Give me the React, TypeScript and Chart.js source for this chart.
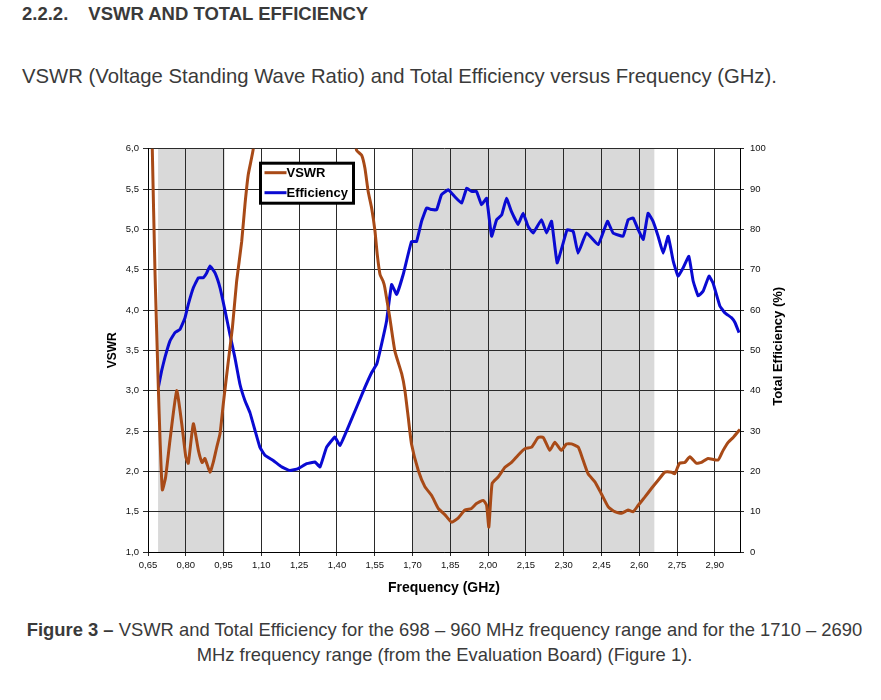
import React, { useEffect, useRef } from 'react';
import { Chart, registerables } from 'chart.js';

Chart.register(...registerables);

const FONT = 'Arial, "Liberation Sans", sans-serif';

const VSWR_FREQ = [
  0.662, 0.667, 0.678, 0.691, 0.698, 0.707, 0.72, 0.737, 0.764, 0.784, 0.8, 0.81, 0.83, 0.85, 0.865,
  0.876, 0.896, 0.909, 0.923, 0.936, 0.949, 0.969, 0.985, 1.002, 1.022, 1.035, 1.048, 1.068, 1.09,
  1.15, 1.3, 1.42, 1.465, 1.478, 1.498, 1.511, 1.524, 1.538, 1.551, 1.56, 1.571, 1.583, 1.59, 1.61,
  1.63, 1.657, 1.67, 1.683, 1.696, 1.723, 1.749, 1.776, 1.802, 1.829, 1.855, 1.881, 1.908, 1.934,
  1.954, 1.981, 1.994, 2.003, 2.016, 2.04, 2.067, 2.093, 2.119, 2.146, 2.173, 2.199, 2.219, 2.245,
  2.265, 2.291, 2.311, 2.331, 2.358, 2.377, 2.397, 2.424, 2.45, 2.477, 2.503, 2.53, 2.556, 2.576,
  2.596, 2.622, 2.649, 2.675, 2.702, 2.728, 2.741, 2.76, 2.781, 2.801, 2.827, 2.847, 2.873, 2.913,
  2.933, 2.953, 2.973, 3.0,
];
const VSWR_VALUES = [
  6.8, 6.0, 4.44, 3.04, 2.38, 1.77, 1.93, 2.38, 3.0, 2.59, 2.18, 2.1, 2.59, 2.26, 2.11,
  2.16, 1.99, 2.11, 2.3, 2.47, 2.84, 3.37, 3.78, 4.36, 4.85, 5.31, 5.68, 6.0, 6.9,
  9.0, 10.0, 8.0, 6.3, 5.98, 5.92, 5.76, 5.47, 5.26, 4.98, 4.69, 4.44, 4.36, 4.28, 3.9,
  3.49, 3.21, 3.0, 2.67, 2.34, 2.01, 1.81, 1.7, 1.54, 1.46, 1.37, 1.42, 1.52, 1.54,
  1.6, 1.64, 1.58, 1.31, 1.85, 1.93, 2.05, 2.11, 2.2, 2.28, 2.3, 2.42, 2.42, 2.26,
  2.36, 2.26, 2.34, 2.34, 2.3, 2.14, 1.97, 1.87, 1.72, 1.56, 1.5, 1.48, 1.52, 1.5,
  1.58, 1.68, 1.79, 1.89, 1.99, 1.99, 1.97, 2.1, 2.11, 2.18, 2.1, 2.11, 2.16, 2.14,
  2.26, 2.36, 2.42, 2.52,
];

const EFF_FREQ = [
  0.691, 0.704, 0.717, 0.737, 0.757, 0.777, 0.797, 0.81, 0.83, 0.85, 0.869, 0.883, 0.896, 0.916,
  0.936, 0.956, 0.975, 0.995, 1.015, 1.035, 1.055, 1.075, 1.094, 1.114, 1.147, 1.181, 1.213, 1.246,
  1.28, 1.313, 1.333, 1.359, 1.392, 1.412, 1.439, 1.478, 1.511, 1.538, 1.558, 1.577, 1.597, 1.617,
  1.637, 1.663, 1.696, 1.716, 1.736, 1.756, 1.776, 1.796, 1.815, 1.842, 1.868, 1.895, 1.915, 1.934,
  1.954, 1.974, 1.994, 2.014, 2.034, 2.054, 2.073, 2.093, 2.119, 2.139, 2.159, 2.179, 2.212, 2.232,
  2.252, 2.274, 2.298, 2.314, 2.338, 2.357, 2.391, 2.437, 2.474, 2.496, 2.536, 2.556, 2.576, 2.596,
  2.616, 2.635, 2.655, 2.675, 2.695, 2.715, 2.735, 2.754, 2.774, 2.797, 2.814, 2.834, 2.854, 2.877,
  2.893, 2.92, 2.94, 2.966, 2.98, 2.996,
];
const EFF_VALUES = [
  40.8, 44.9, 48.2, 52.3, 54.4, 55.2, 58.1, 61.4, 65.5, 68.0, 68.0, 69.2, 70.9, 69.2,
  65.5, 59.8, 54.0, 48.2, 41.6, 37.5, 34.5, 30.1, 26.0, 24.0, 22.7, 21.1, 20.2, 20.7,
  21.9, 22.3, 21.1, 26.0, 28.5, 26.4, 30.1, 35.9, 40.8, 44.5, 46.6, 51.5, 57.3, 66.3,
  63.9, 68.8, 77.0, 77.0, 82.0, 85.3, 84.9, 84.9, 88.6, 89.8, 88.1, 86.5, 90.2, 89.4,
  89.4, 86.1, 87.7, 78.3, 82.4, 83.6, 87.7, 84.4, 81.2, 84.0, 80.7, 79.1, 82.4, 79.1,
  82.0, 71.7, 76.6, 79.9, 79.5, 74.1, 79.1, 76.2, 82.0, 79.1, 78.3, 82.4, 82.8, 79.9,
  77.5, 84.0, 82.0, 78.3, 74.1, 78.3, 72.1, 68.4, 70.4, 73.3, 67.2, 63.5, 64.7, 68.4,
  66.7, 61.0, 59.3, 58.1, 56.9, 54.4,
];

const X_TICKS = [0.65, 0.8, 0.95, 1.1, 1.25, 1.4, 1.55, 1.7, 1.85, 2.0, 2.15, 2.3, 2.45, 2.6, 2.75, 2.9];
const X_TICK_LABELS = ['0,65', '0,80', '0,95', '1,10', '1,25', '1,40', '1,55', '1,70', '1,85', '2,00', '2,15', '2,30', '2,45', '2,60', '2,75', '2,90'];
const BANDS = [
  [0.69, 0.955],
  [1.7, 2.66],
];
const SERIES_NAMES = ['VSWR', 'Efficiency'];
const SERIES_COLORS = ['#a84a17', '#0a0ad2'];
const RIGHT_TITLE = 'Total Efficiency (%)';

const bandPlugin = {
  id: 'bands',
  beforeDraw(chart: any) {
    const { ctx, chartArea, scales } = chart;
    ctx.save();
    ctx.fillStyle = '#d9d9d9';
    BANDS.forEach(([a, b]) => {
      const x1 = scales.x.getPixelForValue(a);
      const x2 = scales.x.getPixelForValue(b);
      ctx.fillRect(x1, chartArea.top, x2 - x1, chartArea.bottom - chartArea.top);
    });
    ctx.restore();
  },
};

const legendPlugin = {
  id: 'boxLegend',
  afterDatasetsDraw(chart: any) {
    const { ctx, chartArea } = chart;
    const x = chartArea.left + 112.5;
    const y = chartArea.top + 14.5;
    ctx.save();
    ctx.fillStyle = '#ffffff';
    ctx.fillRect(x, y, 93, 40);
    ctx.lineWidth = 3;
    ctx.strokeStyle = '#000';
    ctx.strokeRect(x, y, 93, 40);
    chart.data.datasets.forEach((ds: any, i: number) => {
      const ly = y + 9.5 + i * 20;
      ctx.strokeStyle = ds.borderColor;
      ctx.lineWidth = 3;
      ctx.beginPath();
      ctx.moveTo(x + 4, ly);
      ctx.lineTo(x + 26, ly);
      ctx.stroke();
      ctx.fillStyle = '#000';
      ctx.font = `bold 13px ${FONT}`;
      ctx.textBaseline = 'middle';
      ctx.textAlign = 'left';
      ctx.fillText(ds.label, x + 26, ly + 0.5);
    });
    // right-axis title, reading bottom to top
    const cx = chartArea.right + 38;
    const cy = (chartArea.top + chartArea.bottom) / 2 - 4;
    ctx.translate(cx, cy);
    ctx.rotate(-Math.PI / 2);
    ctx.font = `bold 13px ${FONT}`;
    ctx.textAlign = 'center';
    ctx.textBaseline = 'middle';
    ctx.fillStyle = '#000';
    ctx.fillText(RIGHT_TITLE, 0, 0);
    ctx.restore();
  },
};

export default function App() {
  const ref = useRef<HTMLCanvasElement>(null);

  useEffect(() => {
    const vswrData = VSWR_FREQ.map((f, i) => ({ x: f, y: VSWR_VALUES[i] }));
    const effData = EFF_FREQ.map((f, i) => ({ x: f, y: EFF_VALUES[i] }));
    const tickFont = { size: 9.5, family: FONT };
    const chart = new Chart(ref.current as HTMLCanvasElement, {
      type: 'line',
      data: {
        datasets: [
          {
            label: SERIES_NAMES[0],
            data: vswrData,
            borderColor: SERIES_COLORS[0],
            borderWidth: 3,
            pointRadius: 0,
            tension: 0.15,
            yAxisID: 'y',
          },
          {
            label: SERIES_NAMES[1],
            data: effData,
            borderColor: SERIES_COLORS[1],
            borderWidth: 3,
            pointRadius: 0,
            tension: 0.1,
            yAxisID: 'y1',
          },
        ],
      },
      options: {
        animation: false,
        responsive: false,
        events: [],
        layout: { padding: { top: 10, left: 0, right: 0, bottom: 0 } },
        font: { family: FONT },
        plugins: { legend: { display: false }, tooltip: { enabled: false } },
        scales: {
          x: {
            type: 'linear',
            min: 0.65,
            max: 3.0,
            afterBuildTicks: (s: any) => {
              s.ticks = X_TICKS.map((v) => ({ value: v }));
            },
            afterFit: (s: any) => {
              s.height = 45;
            },
            ticks: {
              autoSkip: false,
              maxRotation: 0,
              padding: 4,
              color: '#111',
              font: tickFont,
              callback: (_v: any, i: number) => X_TICK_LABELS[i],
            },
            grid: { color: '#2a2a2a', tickLength: 4, lineWidth: 1 },
            border: { color: '#000', width: 1 },
            title: {
              display: true,
              text: 'Frequency (GHz)',
              color: '#000',
              font: { size: 14, weight: 'bold', family: FONT },
              padding: { top: 2, bottom: 0 },
            },
          },
          y: {
            position: 'left',
            min: 1,
            max: 6,
            afterFit: (s: any) => {
              s.width = 53;
            },
            ticks: {
              stepSize: 0.5,
              padding: 4,
              color: '#111',
              font: tickFont,
              callback: (v: any) => Number(v).toFixed(1).replace('.', ','),
            },
            grid: { color: '#2a2a2a', tickLength: 5, lineWidth: 1 },
            border: { color: '#000', width: 1 },
            title: {
              display: true,
              text: 'VSWR',
              color: '#000',
              font: { size: 12, weight: 'bold', family: FONT },
              padding: { top: 10, bottom: 0 },
            },
          },
          y1: {
            position: 'right',
            min: 0,
            max: 100,
            afterFit: (s: any) => {
              s.width = 55;
            },
            ticks: {
              stepSize: 10,
              padding: 6,
              color: '#111',
              font: tickFont,
            },
            grid: { drawOnChartArea: false, color: '#2a2a2a', tickLength: 4 },
            border: { color: '#000', width: 1 },
            title: { display: false },
          },
        },
      } as any,
      plugins: [bandPlugin, legendPlugin],
    });
    return () => chart.destroy();
  }, []);

  return (
    <div
      style={{
        position: 'absolute',
        left: 0,
        top: 0,
        width: 881,
        height: 700,
        background: '#fff',
        fontFamily: FONT,
        color: '#3a3a3a',
        overflow: 'hidden',
      }}
    >
      <div style={{ position: 'absolute', left: 22, top: 3, fontSize: 18.5, fontWeight: 'bold', lineHeight: '22px', whiteSpace: 'nowrap' }}>
        2.2.2.<span style={{ display: 'inline-block', width: 20 }} />VSWR AND TOTAL EFFICIENCY
      </div>
      <div style={{ position: 'absolute', left: 22, top: 64, fontSize: 20.3, lineHeight: '24px', whiteSpace: 'nowrap' }}>
        VSWR (Voltage Standing Wave Ratio) and Total Efficiency versus Frequency (GHz).
      </div>
      <canvas
        ref={ref}
        width={700}
        height={460}
        style={{ position: 'absolute', left: 95, top: 137, width: 700, height: 460 }}
      />
      <div
        style={{
          position: 'absolute',
          left: 0,
          top: 617,
          width: 889,
          textAlign: 'center',
          fontSize: 18.4,
          lineHeight: '25px',
          whiteSpace: 'nowrap',
        }}
      >
        <b>Figure 3 –</b> VSWR and Total Efficiency for the 698 – 960 MHz frequency range and for the 1710 – 2690
        <br />
        MHz frequency range (from the Evaluation Board) (Figure 1).
      </div>
    </div>
  );
}
